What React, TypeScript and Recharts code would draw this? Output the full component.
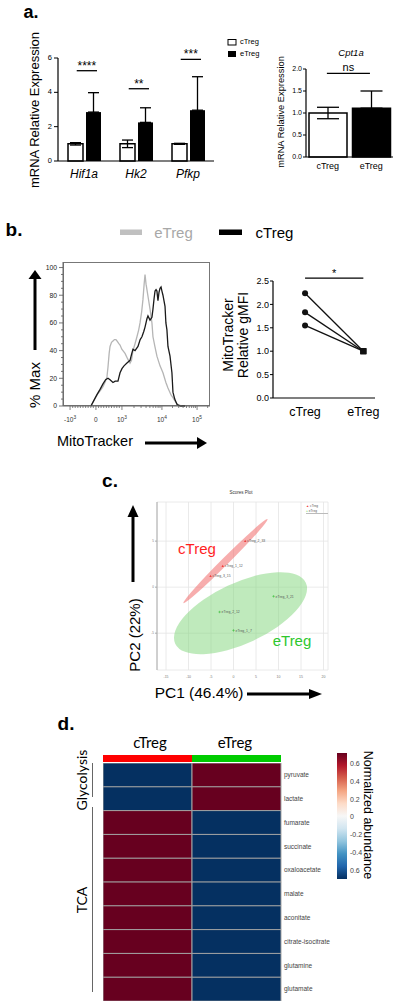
import React from 'react'
import {
  BarChart,
  Bar,
  LineChart,
  Line,
  ScatterChart,
  Scatter,
  XAxis,
  YAxis,
  CartesianGrid,
  ErrorBar,
  ReferenceLine,
  Cell,
} from 'recharts'

const SANS = '"Liberation Sans", Arial, sans-serif'
const CALIBRI = 'Lato, "Noto Sans", sans-serif'

// ---- panel a: glycolysis genes ----
const GENES = ['Hif1a', 'Hk2', 'Pfkp']
const A_CTREG = [1.0, 1.0, 1.0]
const A_CTREG_ERR = [0.07, 0.22, 0.03]
const A_ETREG = [2.85, 2.25, 2.96]
const A_ETREG_ERR = [1.13, 0.85, 1.95]
const A_SIG = ['****', '**', '***']
const A_SIG_Y = [5.26, 4.21, 5.92]
const A_Y_TICKS = [0, 2, 4, 6]

// ---- panel a: Cpt1a ----
const CPT_GROUPS = ['cTreg', 'eTreg']
const CPT_MEAN = [1.0, 1.11]
const CPT_ERR_LOW = [0.13, 0]
const CPT_ERR_HIGH = [0.13, 0.39]
const CPT_SIG_Y = 1.9

// ---- panel b: MitoTracker histogram (x in display channels 0..1000) ----
const HIST_ETREG_X = [190, 210, 238, 260, 272, 290, 299, 306, 314, 320, 330, 340, 350, 360, 367, 380, 388, 400, 422, 440, 456, 466, 476, 490, 503, 515, 524, 535, 544, 552, 558, 565, 571, 580, 592, 605, 612, 625, 639, 660, 680, 700, 714, 735, 748, 765, 782, 810]
const HIST_ETREG_Y = [0, 4, 9, 12, 14, 18, 21, 28, 38, 43, 46, 47, 48, 48, 47, 45, 44, 41, 38, 34, 31, 33, 40, 45, 50, 55, 60, 68, 77, 88, 95, 88, 84, 78, 70, 60, 50, 43, 36, 29, 24, 17, 13, 8, 6, 3, 1, 0]
const HIST_CTREG_X = [190, 205, 230, 252, 272, 290, 306, 320, 340, 355, 374, 388, 401, 415, 435, 456, 468, 476, 490, 510, 525, 537, 550, 558, 571, 578, 592, 605, 612, 620, 626, 633, 639, 646, 653, 660, 667, 673, 680, 694, 700, 707, 714, 728, 741, 748, 760, 776, 800, 830]
const HIST_CTREG_Y = [0, 3, 8, 12, 16, 19, 20, 19, 17, 18, 18, 24, 27, 29, 31, 33, 38, 41, 40, 43, 48, 50, 54, 57, 63, 65, 62, 64, 70, 78, 83, 84, 83, 76, 82, 85, 86, 83, 80, 72, 60, 55, 43, 36, 24, 10, 5, 1, 0, 0]
const HIST_X_MAJOR = [48, 224, 401, 673, 912]
const HIST_X_BASE = ['-10', '0', '10', '10', '10']
const HIST_X_EXP = ['3', '', '3', '4', '5']
const HIST_X_MINOR = [66, 83, 101, 118, 136, 154, 171, 189, 206, 242, 259, 277, 295, 312, 330, 348, 366, 383, 483, 531, 565, 591, 613, 631, 647, 660, 745, 787, 817, 840, 859, 875, 889, 901, 984]
const HIST_Y_TICKS = [0, 5, 10, 15, 20, 25, 30, 35, 40, 45, 50, 55, 60, 65, 70, 75, 80, 85, 90, 95, 100]

// ---- panel b: relative gMFI ----
const MITO_GROUPS = ['cTreg', 'eTreg']
const MITO_CTREG = [2.24, 1.83, 1.55]
const MITO_ETREG = [1.0, 1.0, 1.0]
const MITO_SIG_Y = 2.56

// ---- panel c: PCA scores ----
const PCA_CTREG_X = [2.6, -2.4, -5.1]
const PCA_CTREG_Y = [5.0, 2.3, 1.2]
const PCA_CTREG_NAMES = ['cTreg_2_33', 'cTreg_1_12', 'cTreg_3_15']
const PCA_ETREG_X = [8.9, -3.1, 0.0]
const PCA_ETREG_Y = [-1.0, -2.7, -4.7]
const PCA_ETREG_NAMES = ['eTreg_3_21', 'eTreg_2_12', 'eTreg_1_7']
const ELLIPSE_GROUPS = ['cTreg', 'eTreg']
const ELLIPSE_CX = [-1.78, 1.56]
const ELLIPSE_CY = [2.83, -2.83]
const ELLIPSE_TIP_X = [7.56, 16.07]
const ELLIPSE_TIP_Y = [7.39, 0.48]
const ELLIPSE_RATIO = [0.06, 0.42]
const PCA_X_DOMAIN = [-17, 21]
const PCA_Y_DOMAIN = [-9, 9.25]
const PCA_X_TICKS = [-15, -10, -5, 0, 5, 10, 15, 20]
const PCA_Y_TICKS = [-5, 0, 5]

// ---- panel d: heatmap ----
const METABOLITES = ['pyruvate', 'lactate', 'fumarate', 'succinate', 'oxaloacetate', 'malate', 'aconitate', 'citrate-isocitrate', 'glutamine', 'glutamate']
const HM_CTREG = [-0.707, -0.707, 0.707, 0.707, 0.707, 0.707, 0.707, 0.707, 0.707, 0.707]
const HM_ETREG = [0.707, 0.707, -0.707, -0.707, -0.707, -0.707, -0.707, -0.707, -0.707, -0.707]
const CBAR_LABELS = ['0.6', '0.4', '0.2', '0', '-0.2', '-0.4', '0.6']

const RDBU = ['#053061', '#2166ac', '#4393c3', '#92c5de', '#d1e5f0', '#f7f7f7', '#fddbc7', '#f4a582', '#d6604d', '#b2182b', '#67001f']

function mix(a: string, b: string, f: number) {
  const pa = [1, 3, 5].map((i) => parseInt(a.slice(i, i + 2), 16))
  const pb = [1, 3, 5].map((i) => parseInt(b.slice(i, i + 2), 16))
  return `rgb(${pa.map((v, i) => Math.round(v + (pb[i] - v) * f)).join(',')})`
}

function rdbu(v: number) {
  const t = Math.max(0, Math.min(1, (v + 0.7) / 1.4)) * (RDBU.length - 1)
  const i = Math.min(Math.floor(t), RDBU.length - 2)
  return mix(RDBU[i], RDBU[i + 1], t - i)
}

// table builds
const aData = GENES.map((g, i) => ({
  gene: g,
  c: A_CTREG[i],
  cErr: [A_CTREG_ERR[i], A_CTREG_ERR[i]],
  e: A_ETREG[i],
  eErr: [0, A_ETREG_ERR[i]],
}))
const cptData = CPT_GROUPS.map((g, i) => ({ g, v: CPT_MEAN[i], err: [CPT_ERR_LOW[i], CPT_ERR_HIGH[i]] }))
const histE = HIST_ETREG_X.map((x, i) => ({ x, y: HIST_ETREG_Y[i] }))
const histC = HIST_CTREG_X.map((x, i) => ({ x, y: HIST_CTREG_Y[i] }))
const histXTicks = [...HIST_X_MAJOR, ...HIST_X_MINOR].sort((a, b) => a - b)
const pcaC = PCA_CTREG_X.map((x, i) => ({ x, y: PCA_CTREG_Y[i], name: PCA_CTREG_NAMES[i] }))
const pcaE = PCA_ETREG_X.map((x, i) => ({ x, y: PCA_ETREG_Y[i], name: PCA_ETREG_NAMES[i] }))
const ellipses = ELLIPSE_GROUPS.map((g, i) => ({
  g,
  x: ELLIPSE_CX[i],
  y: ELLIPSE_CY[i],
  tipX: ELLIPSE_TIP_X[i],
  tipY: ELLIPSE_TIP_Y[i],
  ratio: ELLIPSE_RATIO[i],
}))
const hmData = METABOLITES.map((m, i) => ({ name: m, c: 1, e: 1, cv: HM_CTREG[i], ev: HM_ETREG[i] }))

// plot-area geometry shared by the charts and their outer tick labels
const A_PLOT = { left: 58, top: 58, bottom: 161, max: 6 }
const H_PLOT = { left: 63, top: 262, bottom: 406, max: 104 }
const PCA_W = 171
const PCA_H = 168
const KX = PCA_W / (PCA_X_DOMAIN[1] - PCA_X_DOMAIN[0])
const KY = PCA_H / (PCA_Y_DOMAIN[1] - PCA_Y_DOMAIN[0])
const yPix = (p: any, v: number) => p.bottom - (v / p.max) * (p.bottom - p.top)

const HistXTick = ({ x, y, payload }: any) => {
  const idx = HIST_X_MAJOR.indexOf(payload.value)
  const major = idx >= 0
  return (
    <g>
      <line x1={x} x2={x} y1={y} y2={y + (major ? 4 : 2)} stroke="#666" strokeWidth={0.8} />
      {major && (
        <text x={x} y={y + 16} textAnchor="middle" fontSize={6.5} fill="#333">
          {HIST_X_BASE[idx]}
          {HIST_X_EXP[idx] && (
            <tspan dy={-3.5} fontSize={4.8}>
              {HIST_X_EXP[idx]}
            </tspan>
          )}
        </text>
      )}
    </g>
  )
}

const MitoDot = ({ cx, cy, payload }: any) =>
  payload.x === 0 ? (
    <circle cx={cx} cy={cy} r={3} fill="#111" />
  ) : (
    <rect x={cx - 3} y={cy - 3} width={6} height={6} fill="#111" />
  )

const EllipseShape = ({ cx, cy, payload }: any) => {
  const dx = (payload.tipX - payload.x) * KX
  const dy = -(payload.tipY - payload.y) * KY
  const a = Math.hypot(dx, dy)
  const ang = (Math.atan2(dy, dx) * 180) / Math.PI
  const red = payload.g === 'cTreg'
  return (
    <ellipse
      cx={cx}
      cy={cy}
      rx={a}
      ry={a * payload.ratio}
      transform={`rotate(${ang} ${cx} ${cy})`}
      fill={red ? '#f06a6a' : '#7fd67a'}
      fillOpacity={red ? 0.55 : 0.5}
    />
  )
}

const PcaPoint = (color: string, tri: boolean) => ({ cx, cy, payload }: any) => (
  <g>
    {tri ? (
      <path d={`M${cx},${cy - 1.3} L${cx + 1.2},${cy + 1} L${cx - 1.2},${cy + 1} Z`} fill={color} />
    ) : (
      <path d={`M${cx - 1.2},${cy} H${cx + 1.2} M${cx},${cy - 1.2} V${cy + 1.2}`} stroke={color} strokeWidth={0.6} />
    )}
    <text x={cx + 2} y={cy + 1.2} fontSize={3.4} fill="#555">
      {payload.name}
    </text>
  </g>
)

function Txt({ x, y, size, children, rot = 0, color = '#000', weight = 400, italic = false, family = SANS, start = false, end = false }: any) {
  const tx = start ? '0' : end ? '-100%' : '-50%'
  return (
    <div
      style={{
        position: 'absolute',
        left: x,
        top: y,
        transform: `translate(${tx},-50%) rotate(${rot}deg)`,
        fontSize: size,
        lineHeight: 1,
        whiteSpace: 'nowrap',
        color,
        fontWeight: weight,
        fontStyle: italic ? 'italic' : 'normal',
        fontFamily: family,
      }}
    >
      {children}
    </div>
  )
}

function Arrow({ x1, y1, x2, y2, head = 10, half = 6, w = 3 }: any) {
  const ang = Math.atan2(y2 - y1, x2 - x1)
  const bx = x2 - head * Math.cos(ang)
  const by = y2 - head * Math.sin(ang)
  const px = -Math.sin(ang) * half
  const py = Math.cos(ang) * half
  return (
    <g>
      <line x1={x1} y1={y1} x2={bx} y2={by} stroke="#000" strokeWidth={w} />
      <polygon points={`${x2},${y2} ${bx + px},${by + py} ${bx - px},${by - py}`} fill="#000" />
    </g>
  )
}

// significance bars drawn in an overlay chart sharing the plot area of a bar chart
function SigOverlay({ width, height, margin, xMax, yMax, bars }: any) {
  return (
    <LineChart width={width} height={height} margin={margin}>
      <XAxis type="number" dataKey="x" domain={[0, xMax]} hide />
      <YAxis type="number" domain={[0, yMax]} hide />
      {bars.map((b: any, i: number) => (
        <Line
          key={i}
          data={[
            { x: b.x1, y: b.y },
            { x: b.x2, y: b.y },
          ]}
          dataKey="y"
          stroke="#000"
          strokeWidth={1.3}
          dot={false}
          isAnimationActive={false}
          label={(p: any) =>
            p.index === 0 ? (
              <text
                key={i}
                x={p.x + ((b.x2 - b.x1) / xMax) * (width - margin.left - margin.right) / 2}
                y={p.y - b.lift}
                textAnchor="middle"
                fontSize={b.size}
                fill="#000"
              >
                {b.text}
              </text>
            ) : (
              <g key={`n${i}`} />
            )
          }
        />
      ))}
    </LineChart>
  )
}

const box = (left: number, top: number): React.CSSProperties => ({ position: 'absolute', left, top })

export default function App() {
  const aSig = A_SIG.map((s, i) => ({ x1: i + 0.36, x2: i + 0.75, y: A_SIG_Y[i], text: s, size: 12, lift: 1 }))
  const cptSig = [{ x1: 0.48, x2: 1.47, y: CPT_SIG_Y, text: 'ns', size: 11, lift: 2 }]
  return (
    <div
      style={{
        position: 'absolute',
        left: 0,
        top: 0,
        width: 400,
        height: 1007,
        background: '#fff',
        overflow: 'hidden',
        fontFamily: SANS,
        color: '#000',
      }}
    >
      {/* ---------- a ---------- */}
      <Txt x={31} y={12} size={18} weight={700}>a.</Txt>
      <Txt x={34} y={110} size={13} rot={-90}>mRNA Relative Expression</Txt>
      <div style={box(0, 0)}>
        <BarChart width={230} height={190} data={aData} margin={{ top: 58, right: 16, bottom: 0, left: 36 }} barSize={15} barGap={3}>
          <XAxis
            dataKey="gene"
            height={29}
            interval={0}
            axisLine={{ stroke: '#000', strokeWidth: 1.2 }}
            tickLine={false}
            tickSize={0}
            tickMargin={8}
            tick={{ fontSize: 12, fontStyle: 'italic', fill: '#000' }}
          />
          <YAxis
            domain={[0, A_PLOT.max]}
            ticks={A_Y_TICKS}
            width={22}
            tick={false}
            tickLine={false}
            axisLine={{ stroke: '#000', strokeWidth: 1.2 }}
          />
          <Bar dataKey="c" fill="#fff" stroke="#000" strokeWidth={1.5} isAnimationActive={false}>
            <ErrorBar dataKey="cErr" width={5.5} stroke="#000" strokeWidth={1.3} isAnimationActive={false} />
          </Bar>
          <Bar dataKey="e" fill="#000" isAnimationActive={false}>
            <ErrorBar dataKey="eErr" width={5.5} stroke="#000" strokeWidth={1.3} isAnimationActive={false} />
          </Bar>
        </BarChart>
      </div>
      <div style={box(0, 0)}>
        <SigOverlay width={230} height={190} margin={{ top: 58, right: 16, bottom: 29, left: 58 }} xMax={3} yMax={6} bars={aSig} />
      </div>
      {A_Y_TICKS.map((v) => (
        <Txt key={v} x={A_PLOT.left - 6} y={yPix(A_PLOT, v)} size={7.5} end>
          {v}
        </Txt>
      ))}

      <Txt x={351} y={53} size={9.5} italic>Cpt1a</Txt>
      <Txt x={282} y={112} size={9.3} rot={-90}>mRNA Relative Expression</Txt>
      <Txt x={240} y={42} size={7.5} start>cTreg</Txt>
      <Txt x={240} y={54} size={7.5} start>eTreg</Txt>
      <div style={box(230, 0)}>
        <BarChart width={170} height={185} data={cptData} margin={{ top: 69, right: 7, bottom: 0, left: 56 }} barSize={38}>
          <XAxis
            dataKey="g"
            height={28}
            axisLine={{ stroke: '#000', strokeWidth: 1.2 }}
            tickLine={false}
            tickSize={0}
            tickMargin={6}
            tick={{ fontSize: 9, fill: '#000' }}
          />
          <YAxis
            domain={[0, 2]}
            ticks={[0, 0.5, 1, 1.5, 2]}
            tickFormatter={(v: number) => v.toFixed(1)}
            width={20}
            tickSize={3}
            tickMargin={1}
            axisLine={{ stroke: '#000', strokeWidth: 1.2 }}
            tickLine={{ stroke: '#000' }}
            tick={{ fontSize: 7, fill: '#000' }}
          />
          <Bar dataKey="v" stroke="#000" strokeWidth={1.5} isAnimationActive={false}>
            {cptData.map((d) => (
              <Cell key={d.g} fill={d.g === 'cTreg' ? '#fff' : '#000'} />
            ))}
            <ErrorBar dataKey="err" width={11} stroke="#000" strokeWidth={1.3} isAnimationActive={false} />
          </Bar>
        </BarChart>
      </div>
      <div style={box(230, 0)}>
        <SigOverlay width={170} height={185} margin={{ top: 69, right: 7, bottom: 28, left: 76 }} xMax={2} yMax={2} bars={cptSig} />
      </div>

      {/* ---------- b ---------- */}
      <Txt x={14} y={229} size={19} weight={700}>b.</Txt>
      <Txt x={173.5} y={232} size={15} color="#a8a8a8">eTreg</Txt>
      <Txt x={274.5} y={232} size={15}>cTreg</Txt>
      <Txt x={34} y={385} size={15} rot={-90}>% Max</Txt>
      <Txt x={95} y={441} size={14.5}>MitoTracker</Txt>
      {/* plot frame */}
      <div style={{ position: 'absolute', left: 63, top: 262, width: 147, height: 144, border: '1px solid #777', boxSizing: 'border-box' }} />
      <div style={box(0, 240)}>
        <LineChart width={220} height={190} margin={{ top: 22, right: 10, bottom: 0, left: 40 }}>
          <XAxis
            type="number"
            dataKey="x"
            domain={[0, 1000]}
            ticks={histXTicks}
            interval={0}
            height={24}
            tickSize={0}
            tickMargin={0}
            tick={HistXTick}
            axisLine={{ stroke: '#666' }}
          />
          <YAxis
            type="number"
            domain={[0, H_PLOT.max]}
            ticks={HIST_Y_TICKS}
            width={23}
            tick={false}
            tickLine={false}
            axisLine={{ stroke: '#666' }}
          />
          <Line data={histE} dataKey="y" type="linear" stroke="#b5b5b5" strokeWidth={1.3} dot={false} isAnimationActive={false} />
          <Line data={histC} dataKey="y" type="linear" stroke="#1a1a1a" strokeWidth={1.3} dot={false} isAnimationActive={false} />
        </LineChart>
      </div>

      <Txt x={228} y={335} size={14} rot={-90}>MitoTracker</Txt>
      <Txt x={243} y={335} size={14} rot={-90}>Relative gMFI</Txt>
      <div style={box(220, 260)}>
        <LineChart width={180} height={160} margin={{ top: 21, right: 25, bottom: 0, left: 28 }}>
          <XAxis
            type="number"
            dataKey="x"
            domain={[-0.55, 1.2]}
            ticks={[0, 1]}
            tickFormatter={(v: number) => MITO_GROUPS[v]}
            height={22}
            tickSize={0}
            tickMargin={9}
            axisLine={{ stroke: '#000', strokeWidth: 1.2 }}
            tick={{ fontSize: 12.5, fill: '#000' }}
          />
          <YAxis
            type="number"
            domain={[0, 2.5]}
            ticks={[0, 0.5, 1, 1.5, 2, 2.5]}
            tickFormatter={(v: number) => v.toFixed(1)}
            width={25}
            tickSize={3}
            tickMargin={1}
            axisLine={{ stroke: '#000', strokeWidth: 1.2 }}
            tickLine={{ stroke: '#000' }}
            tick={{ fontSize: 9, fill: '#000' }}
          />
          {MITO_CTREG.map((c, i) => (
            <Line
              key={i}
              data={[
                { x: 0, y: c },
                { x: 1, y: MITO_ETREG[i] },
              ]}
              dataKey="y"
              type="linear"
              stroke="#111"
              strokeWidth={1.3}
              dot={MitoDot}
              isAnimationActive={false}
            />
          ))}
          <ReferenceLine
            segment={[
              { x: 0, y: MITO_SIG_Y },
              { x: 1, y: MITO_SIG_Y },
            ]}
            ifOverflow="visible"
            stroke="#000"
            strokeWidth={1.2}
            label={{ value: '*', position: 'top', offset: 1, fontSize: 11, fill: '#000' }}
          />
        </LineChart>
      </div>

      {/* ---------- c ---------- */}
      <Txt x={110} y={480} size={19} weight={700}>c.</Txt>
      <Txt x={241} y={493} size={4.5} color="#333">Scores Plot</Txt>
      <div style={box(130, 480)}>
        <ScatterChart width={210} height={210} margin={{ top: 22, right: 12, bottom: 0, left: 15 }}>
          <CartesianGrid stroke="#e4e4e4" strokeWidth={0.8} />
          <XAxis
            type="number"
            dataKey="x"
            domain={PCA_X_DOMAIN}
            ticks={PCA_X_TICKS}
            interval={0}
            height={20}
            axisLine={false}
            tickLine={false}
            tickSize={0}
            tickMargin={6}
            tick={{ fontSize: 3.5, fill: '#777' }}
          />
          <YAxis
            type="number"
            dataKey="y"
            domain={PCA_Y_DOMAIN}
            ticks={PCA_Y_TICKS}
            width={12}
            tickSize={2}
            tickMargin={1}
            axisLine={{ stroke: '#aaa' }}
            tickLine={{ stroke: '#aaa' }}
            tick={{ fontSize: 3, fill: '#777' }}
          />
          <Scatter data={ellipses} shape={EllipseShape} isAnimationActive={false} />
          <Scatter data={pcaC} shape={PcaPoint('#f04040', true)} isAnimationActive={false} />
          <Scatter data={pcaE} shape={PcaPoint('#3cbf3c', false)} isAnimationActive={false} />
        </ScatterChart>
      </div>
      <div style={{ ...box(306, 504), fontSize: 3.2, lineHeight: '4.5px', color: '#555', borderBottom: '0.8px solid #bbb', width: 22 }}>
        <div><span style={{ color: '#f04040' }}>▲</span> cTreg</div>
        <div><span style={{ color: '#3cbf3c' }}>+</span> eTreg</div>
      </div>
      <Txt x={197} y={548} size={15} color="#ff1f1f">cTreg</Txt>
      <Txt x={292} y={640} size={15} color="#2ec72e">eTreg</Txt>
      <Txt x={134} y={635} size={15} rot={-90}>PC2 (22%)</Txt>
      <Txt x={199} y={693} size={15.5}>PC1 (46.4%)</Txt>

      {/* ---------- d ---------- */}
      <Txt x={66} y={723} size={19} weight={700}>d.</Txt>
      <Txt x={150} y={742} size={15} family={CALIBRI}>cTreg</Txt>
      <Txt x={235} y={742} size={15} family={CALIBRI}>eTreg</Txt>
      <Txt x={82} y={780} size={14} rot={-90} family={CALIBRI}>Glycolysis</Txt>
      <Txt x={82} y={900} size={14} rot={-90} family={CALIBRI}>TCA</Txt>
      <div style={box(103, 755)}>
        <BarChart layout="vertical" width={258} height={7} data={[{ name: 'class', c: 1, e: 1 }]} margin={{ top: 0, right: 0, bottom: 0, left: 0 }} barCategoryGap={0}>
          <XAxis type="number" domain={[0, 2]} hide />
          <YAxis
            type="category"
            dataKey="name"
            orientation="right"
            width={80}
            axisLine={false}
            tickLine={false}
            tickSize={0}
            tickMargin={4}
            tick={{ fontSize: 7, fill: '#333' }}
          />
          <Bar dataKey="c" stackId="s" fill="#ff0000" isAnimationActive={false} />
          <Bar dataKey="e" stackId="s" fill="#00cc00" isAnimationActive={false} />
        </BarChart>
      </div>
      <div style={box(103, 763)}>
        <BarChart layout="vertical" width={258} height={238} data={hmData} margin={{ top: 0, right: 0, bottom: 0, left: 0 }} barCategoryGap={0}>
          <XAxis type="number" domain={[0, 2]} hide />
          <YAxis
            type="category"
            dataKey="name"
            orientation="right"
            width={80}
            interval={0}
            axisLine={false}
            tickLine={false}
            tickSize={0}
            tickMargin={3}
            tick={{ fontSize: 6.5, fill: '#444' }}
          />
          <Bar dataKey="c" stackId="s" stroke="#a3a3a3" strokeWidth={1} isAnimationActive={false}>
            {hmData.map((d) => (
              <Cell key={d.name} fill={rdbu(d.cv)} />
            ))}
          </Bar>
          <Bar dataKey="e" stackId="s" stroke="#a3a3a3" strokeWidth={1} isAnimationActive={false}>
            {hmData.map((d) => (
              <Cell key={d.name} fill={rdbu(d.ev)} />
            ))}
          </Bar>
        </BarChart>
      </div>
      {CBAR_LABELS.map((l, i) => (
        <Txt key={i} x={350} y={763 + i * 17.8} size={7} color="#444" start>
          {l}
        </Txt>
      ))}
      <Txt x={368} y={815} size={12.5} rot={90}>Normalized abundance</Txt>

      {/* decorations: legend swatches, arrows, tick marks, group brackets, colour bar */}
      <svg width={400} height={1007} style={{ position: 'absolute', left: 0, top: 0, pointerEvents: 'none', fontFamily: SANS }}>
        <defs>
          <linearGradient id="rdbu" x1="0" y1="1" x2="0" y2="0">
            {RDBU.map((c, i) => (
              <stop key={i} offset={i / (RDBU.length - 1)} stopColor={c} />
            ))}
          </linearGradient>
        </defs>
        {A_Y_TICKS.map((v) => (
          <line key={v} x1={A_PLOT.left - 4} x2={A_PLOT.left} y1={yPix(A_PLOT, v)} y2={yPix(A_PLOT, v)} stroke="#000" strokeWidth={1} />
        ))}
        {HIST_Y_TICKS.map((v) => (
          <g key={v}>
            <line
              x1={H_PLOT.left - (v % 20 === 0 ? 4 : 2)}
              x2={H_PLOT.left}
              y1={yPix(H_PLOT, v)}
              y2={yPix(H_PLOT, v)}
              stroke="#555"
              strokeWidth={0.8}
            />
            {v % 20 === 0 && (
              <text x={H_PLOT.left - 6} y={yPix(H_PLOT, v) + 2.4} textAnchor="end" fontSize={6.8} fill="#222">
                {v}
              </text>
            )}
          </g>
        ))}
        <rect x={228} y={39.5} width={8} height={5.5} fill="#fff" stroke="#000" strokeWidth={1} />
        <rect x={228} y={51} width={8} height={6} fill="#000" />
        <rect x={120} y={229.5} width={22} height={5.5} fill="#c0c0c0" />
        <rect x={219} y={229.5} width={23} height={5.5} fill="#000" />
        <Arrow x1={35} y1={350} x2={35} y2={270} head={9} half={6.5} w={3} />
        <Arrow x1={145} y1={443} x2={207} y2={443} head={10} half={6} w={2.8} />
        <Arrow x1={133} y1={582} x2={133} y2={505} head={12} half={5.5} w={3} />
        <Arrow x1={247} y1={694} x2={322} y2={694} head={13} half={5} w={3} />
        <line x1={92.5} y1={763} x2={92.5} y2={797} stroke="#666" strokeWidth={1} />
        <line x1={92.5} y1={807} x2={92.5} y2={992} stroke="#666" strokeWidth={1} />
        <rect x={337} y={753} width={10} height={126} fill="url(#rdbu)" />
      </svg>
    </div>
  )
}
